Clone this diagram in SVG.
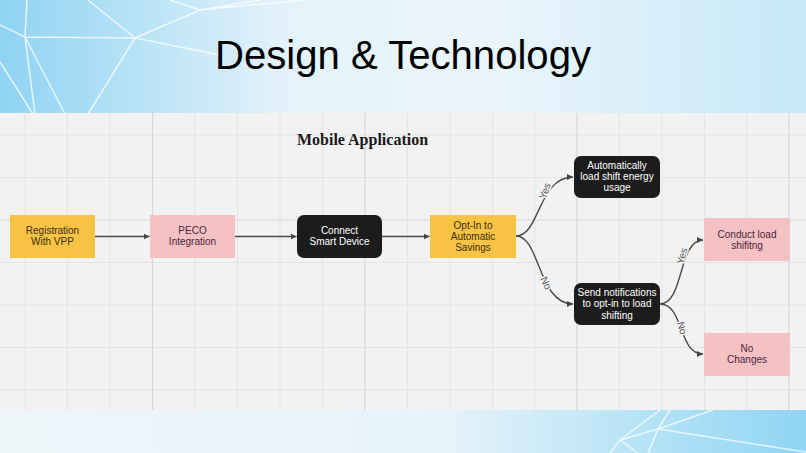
<svg xmlns="http://www.w3.org/2000/svg" width="806" height="453" viewBox="0 0 806 453">
<defs>
<linearGradient id="gTop" x1="0" y1="0" x2="1" y2="0">
<stop offset="0" stop-color="#8fd3f3"/>
<stop offset="0.35" stop-color="#e3f2fa"/>
<stop offset="0.6" stop-color="#ebf5fb"/>
<stop offset="1" stop-color="#c6e8f8"/>
</linearGradient>
<linearGradient id="gBot" x1="0" y1="0" x2="1" y2="0">
<stop offset="0" stop-color="#eef6fa"/>
<stop offset="0.55" stop-color="#e6f3fa"/>
<stop offset="1" stop-color="#8fd5f3"/>
</linearGradient>
<marker id="arr" markerUnits="userSpaceOnUse" markerWidth="7" markerHeight="7" refX="6" refY="3" orient="auto">
<path d="M0,0 L6,3 L0,6 z" fill="#444"/>
</marker>
<style>
.deco{stroke:#ffffff;stroke-opacity:0.75;stroke-width:1.5;fill:none}
.minor{stroke:#e4e4e4;stroke-width:1}
.major{stroke:#d6d6d6;stroke-width:1.2}
.conn{stroke:#4a4a4a;stroke-width:1.4;fill:none;marker-end:url(#arr)}
.t{font-family:"Liberation Sans",Arial,sans-serif;font-size:10px;text-anchor:middle}
.yel rect{fill:#f6c344}
.yel text{fill:#3b2e0f}
.pink rect{fill:#f4c2c2}
.pink text{fill:#4a1f3f}
.blk rect{fill:#1c1c1c}
.blk text{fill:#ffffff}
.lbl{font-family:"Liberation Sans",Arial,sans-serif;font-size:10px;fill:#555;text-anchor:middle;dominant-baseline:central;stroke:#f2f2f2;stroke-width:3;paint-order:stroke}
</style>
</defs>

<!-- background -->
<rect x="0" y="0" width="806" height="114" fill="url(#gTop)"/>
<rect x="0" y="409" width="806" height="44" fill="url(#gBot)"/>
<g id="decoTop">
<path class="deco" d="M0,25 L25,37 L135,38 L200,10 L303,0 M25,37 L27,0 M25,37 L35,114 M25,37 L65,114 M135,38 L88,0 M135,38 L88,114 M135,38 L220,55 M0,62 L33,114 M200,10 L170,0 M200,10 L260,0"/>
</g>
<g id="decoBot">
<path class="deco" d="M658,429 L806,452 M658,429 L713,410 M658,429 L670,410 M658,429 L620,440 L660,410 M620,440 L610,453 M620,440 L638,453 M658,429 L648,453"/>
</g>

<text x="403" y="69" font-family="Liberation Sans, Arial, sans-serif" font-size="41" text-anchor="middle" fill="#000" textLength="376" lengthAdjust="spacingAndGlyphs">Design &amp; Technology</text>

<!-- canvas -->
<rect x="0" y="113" width="806" height="297" fill="#f2f2f2"/>
<g id="grid">
<path class="minor" d="M25,113V410 M67.5,113V410 M110,113V410 M195,113V410 M237.5,113V410 M280,113V410 M322.5,113V410 M407.5,113V410 M450,113V410 M492.5,113V410 M535,113V410 M619.5,113V410 M662,113V410 M704.5,113V410 M747,113V410 M0,135H806 M0,177.5H806 M0,262.5H806 M0,305H806 M0,347.5H806 M0,390H806"/>
<path class="major" d="M152.5,113V410 M365,113V410 M577,113V410 M789,113V410 M0,220H806"/>
</g>

<text x="362.5" y="145" font-family="Liberation Serif, 'DejaVu Serif', serif" font-weight="900" font-size="16" text-anchor="middle" fill="#1a1a1a">Mobile Application</text>

<g id="connectors">
<path class="conn" d="M95,236.5 H149.5"/>
<path class="conn" d="M235,236.5 H296.5"/>
<path class="conn" d="M382,236.5 H429.5"/>
<path class="conn" d="M516,236 C540,236 538,177 573,177"/>
<path class="conn" d="M516,236 C540,236 538,304 573,304"/>
<path class="conn" d="M660,304 C684,304 678,240 703,240"/>
<path class="conn" d="M660,304 C684,304 678,354 703,354"/>
<text class="lbl" transform="translate(545,191) rotate(-70)">Yes</text>
<text class="lbl" transform="translate(546,283) rotate(65)">No</text>
<text class="lbl" transform="translate(682,256) rotate(-75)">Yes</text>
<text class="lbl" transform="translate(682,328) rotate(72)">No</text>
</g>

<g id="registration" class="yel">
<rect x="10" y="215" width="85" height="43"/>
<text class="t" x="52.5" y="234">Registration</text>
<text class="t" x="52.5" y="245">With VPP</text>
</g>
<g id="peco" class="pink">
<rect x="150" y="215" width="85" height="43"/>
<text class="t" x="192.5" y="234">PECO</text>
<text class="t" x="192.5" y="245">Integration</text>
</g>
<g id="connect" class="blk">
<rect x="297" y="215" width="85" height="43" rx="7"/>
<text class="t" x="339.5" y="234">Connect</text>
<text class="t" x="339.5" y="245">Smart Device</text>
</g>
<g id="optin" class="yel">
<rect x="430" y="215" width="86" height="43"/>
<text class="t" x="473" y="228.5">Opt-In to</text>
<text class="t" x="473" y="239.5">Automatic</text>
<text class="t" x="473" y="250.5">Savings</text>
</g>
<g id="autoshift" class="blk">
<rect x="574" y="156" width="86" height="42" rx="7"/>
<text class="t" x="617" y="168.5">Automatically</text>
<text class="t" x="617" y="179.5">load shift energy</text>
<text class="t" x="617" y="191">usage</text>
</g>
<g id="notify" class="blk">
<rect x="574" y="283" width="86" height="42" rx="7"/>
<text class="t" x="617" y="295.5">Send notifications</text>
<text class="t" x="617" y="307">to opt-in to load</text>
<text class="t" x="617" y="318.5">shifting</text>
</g>
<g id="conduct" class="pink">
<rect x="704" y="218" width="86" height="43"/>
<text class="t" x="747" y="237.5">Conduct load</text>
<text class="t" x="747" y="248.5">shifitng</text>
</g>
<g id="nochanges" class="pink">
<rect x="704" y="333" width="86" height="43"/>
<text class="t" x="747" y="351.5">No</text>
<text class="t" x="747" y="362.5">Changes</text>
</g>
</svg>
